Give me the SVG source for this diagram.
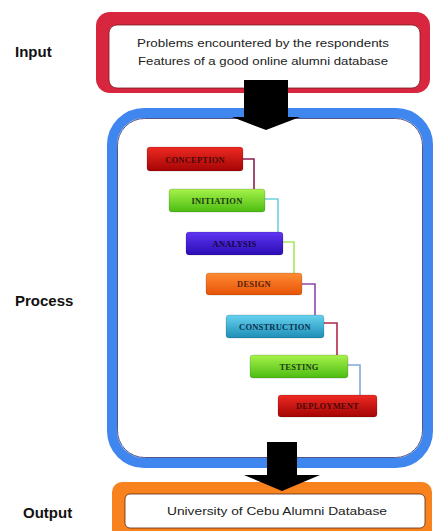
<svg xmlns="http://www.w3.org/2000/svg" width="437" height="531" viewBox="0 0 437 531">
<defs>
<linearGradient id="gRed" x1="0" y1="0" x2="0" y2="1"><stop offset="0" stop-color="#ee2a22"/><stop offset="1" stop-color="#a40404"/></linearGradient>
<linearGradient id="gGreen" x1="0" y1="0" x2="0" y2="1"><stop offset="0" stop-color="#a6f24a"/><stop offset="1" stop-color="#4cbc12"/></linearGradient>
<linearGradient id="gPurple" x1="0" y1="0" x2="0" y2="1"><stop offset="0" stop-color="#5f36f2"/><stop offset="1" stop-color="#2a0cb4"/></linearGradient>
<linearGradient id="gOrange" x1="0" y1="0" x2="0" y2="1"><stop offset="0" stop-color="#ff8c34"/><stop offset="1" stop-color="#e65206"/></linearGradient>
<linearGradient id="gCyan" x1="0" y1="0" x2="0" y2="1"><stop offset="0" stop-color="#66d2f0"/><stop offset="1" stop-color="#1e8eb6"/></linearGradient>
<style>
.lbl{font-family:"Liberation Sans",Arial,sans-serif;font-weight:bold;font-size:15px;fill:#111}
.txt{font-family:"Liberation Sans",Arial,sans-serif;font-size:11.5px;fill:#222;text-anchor:middle}
.step{font-family:"Liberation Serif","Times New Roman",serif;font-weight:bold;font-size:8.5px;text-anchor:middle;letter-spacing:0.2px}
.box{stroke:rgba(0,0,0,0.25);stroke-width:0.6}
.conn{fill:none;stroke-width:1.6}
</style>
</defs>
<rect width="437" height="531" fill="#ffffff"/>

<text class="lbl" x="15" y="57">Input</text>
<text class="lbl" x="15" y="306">Process</text>
<text class="lbl" x="23" y="518">Output</text>

<g id="input">
<rect x="96" y="12" width="334" height="81" rx="14" fill="#d7263d"/>
<rect x="109" y="25" width="311" height="63" rx="8" fill="#ffffff" stroke="#7a1a20" stroke-width="0.8"/>
<text class="txt" x="263" y="47" textLength="252" lengthAdjust="spacingAndGlyphs">Problems encountered by the respondents</text>
<text class="txt" x="263" y="65" textLength="250" lengthAdjust="spacingAndGlyphs">Features of a good online alumni database</text>
</g>

<g id="process">
<rect x="112" y="113" width="316" height="350" rx="32" fill="#ffffff" stroke="#3f86ee" stroke-width="10"/>
<rect x="117.5" y="118.5" width="305" height="339" rx="27" fill="none" stroke="#2a2a6a" stroke-width="0.8"/>
</g>

<g id="output">
<rect x="112" y="482" width="320" height="60" rx="10" fill="#f7821e"/>
<rect x="125" y="494" width="300" height="34" rx="5" fill="#ffffff" stroke="#5a2a10" stroke-width="0.8"/>
<text class="txt" x="277" y="515" textLength="220" lengthAdjust="spacingAndGlyphs">University of Cebu Alumni Database</text>
</g>

<g id="connectors">
<polygon points="244,80 288,80 288,117 300,117 266,130 232,117 244,117" fill="#000"/>
<polygon points="267,442 297,442 297,475 320,475 282,491 244,475 267,475" fill="#000"/>
<polyline class="conn" points="243,159 254,159 254,189" stroke="#8b2050"/>
<polyline class="conn" points="265,199 278,199 278,232" stroke="#6fd0e0"/>
<polyline class="conn" points="283,242 294,242 294,273" stroke="#a8e860"/>
<polyline class="conn" points="302,284 315,284 315,315" stroke="#8a4aa8"/>
<polyline class="conn" points="324,323 337,323 337,355" stroke="#b0284a"/>
<polyline class="conn" points="348,365 360,365 360,395" stroke="#80a8d8"/>
</g>

<g id="conception">
<rect class="box" x="147" y="147" width="96" height="24" rx="3" fill="url(#gRed)"/>
<text class="step" x="195" y="162.5" fill="#4a0808">CONCEPTION</text>
</g>
<g id="initiation">
<rect class="box" x="169" y="189" width="96" height="23" rx="3" fill="url(#gGreen)"/>
<text class="step" x="217" y="203.5" fill="#1a3a10">INITIATION</text>
</g>
<g id="analysis">
<rect class="box" x="186" y="232" width="97" height="23" rx="3" fill="url(#gPurple)"/>
<text class="step" x="234.5" y="246.5" fill="#140840">ANALYSIS</text>
</g>
<g id="design">
<rect class="box" x="206" y="273" width="96" height="22" rx="3" fill="url(#gOrange)"/>
<text class="step" x="254" y="287" fill="#5a2008">DESIGN</text>
</g>
<g id="construction">
<rect class="box" x="226" y="315" width="98" height="23" rx="3" fill="url(#gCyan)"/>
<text class="step" x="275" y="329.5" fill="#0a3050">CONSTRUCTION</text>
</g>
<g id="testing">
<rect class="box" x="250" y="355" width="98" height="23" rx="3" fill="url(#gGreen)"/>
<text class="step" x="299" y="369.5" fill="#1a4010">TESTING</text>
</g>
<g id="deployment">
<rect class="box" x="278" y="395" width="99" height="22" rx="3" fill="url(#gRed)"/>
<text class="step" x="327.5" y="409" fill="#4a0808">DEPLOYMENT</text>
</g>
</svg>
